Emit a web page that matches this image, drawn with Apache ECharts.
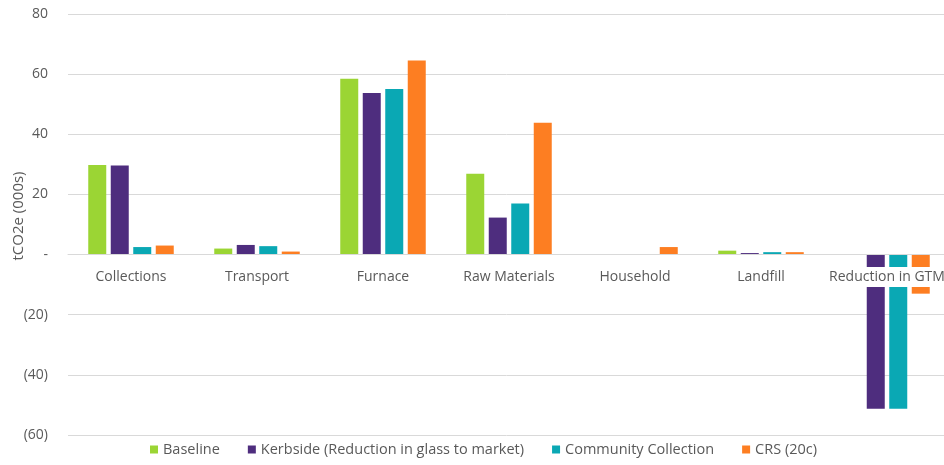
<!DOCTYPE html>
<html><head><meta charset="utf-8">
<script src="https://cdn.jsdelivr.net/npm/echarts@6/dist/echarts.min.js"></script>
<style>html,body{margin:0;padding:0;background:#fff}#c{width:944px;height:465px}</style>
</head><body><div id="c"></div>
<script>
const categories = ['Collections','Transport','Furnace','Raw Materials','Household','Landfill','Reduction in GTM'];
const baseline = [29.8, 2.0, 58.5, 26.9, 0, 1.3, 0];
const kerbside = [29.6, 3.2, 53.7, 12.3, 0, 0.5, -51.3];
const community = [2.5, 2.8, 55.1, 17.0, 0, 0.8, -51.3];
const crs = [3.0, 1.0, 64.5, 43.8, 2.5, 0.8, -13.0];
const seriesNames = ['Baseline','Kerbside (Reduction in glass to market)','Community Collection','CRS (20c)'];
const colors = ['#9BD534','#4E2D7E','#0AA8B4','#FD7E22'];
const yTicks = {80:'80',60:'60',40:'40',20:'20',0:'-','-20':'(20)','-40':'(40)','-60':'(60)'};
const yTitle = 'tCO2e (000s)';

const font = 'Open Sans';
const chart = echarts.init(document.getElementById('c'));
const data = [baseline, kerbside, community, crs];
chart.setOption({
  animation: false,
  grid: {left: 68, right: -6, top: 14, bottom: 30, outerBoundsMode: 'none', containLabel: false},
  graphic: [{
    type: 'text', x: 19, y: 216, rotation: Math.PI / 2,
    style: {text: yTitle, fill: '#595959', font: '15px "Open Sans"', align: 'center', verticalAlign: 'middle'}
  }],
  legend: {
    bottom: 3, left: 145, itemWidth: 8, itemHeight: 8, itemGap: 28, icon: 'rect',
    textStyle: {color: '#595959', fontSize: 14.5, fontFamily: font},
    data: seriesNames
  },
  xAxis: {
    type: 'category', data: categories, z: 10,
    axisLine: {onZero: true, lineStyle: {color: '#D9D9D9'}},
    axisTick: {show: false},
    axisLabel: {color: '#595959', fontSize: 14, fontFamily: font, margin: -168, interval: 0,
      backgroundColor: '#fff', padding: [3, 2, 3, 2]}
  },
  yAxis: {
    type: 'value', min: -60, max: 80, interval: 20,
    axisLine: {show: false}, axisTick: {show: false},
    axisLabel: {color: '#595959', fontSize: 14, fontFamily: font, margin: 20,
      formatter: v => yTicks[v] !== undefined ? yTicks[v] : String(v)},
    splitLine: {lineStyle: {color: '#D9D9D9'}}
  },
  series: data.map((d, i) => ({
    name: seriesNames[i], type: 'bar', data: d, barWidth: 18, barGap: '25%',
    itemStyle: {color: colors[i]}
  }))
});
</script></body></html>
